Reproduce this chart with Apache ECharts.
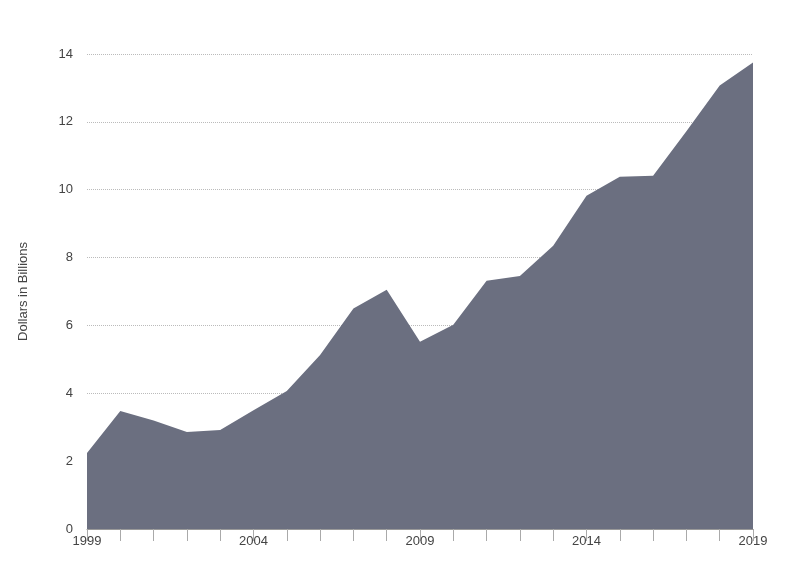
<!DOCTYPE html>
<html><head><meta charset="utf-8">
<script src="https://cdn.jsdelivr.net/npm/echarts@6/dist/echarts.min.js"></script>
<style>html,body{margin:0;padding:0;background:#fff}#c{width:800px;height:587px}</style>
</head><body><div id="c"></div>
<script>
const years = ['1999','2000','2001','2002','2003','2004','2005','2006','2007','2008','2009','2010','2011','2012','2013','2014','2015','2016','2017','2018','2019'];
const values = [2.24,3.48,3.2,2.86,2.92,3.5,4.07,5.13,6.5,7.05,5.52,6.02,7.32,7.46,8.35,9.82,10.38,10.41,11.72,13.07,13.75];
const yTicks = [0,2,4,6,8,10,12,14];
const chart = echarts.init(document.getElementById('c'));
chart.setOption({
  animation:false,
  grid:{left:87,right:47,top:54,bottom:58},
  xAxis:{type:'category',data:years,boundaryGap:false,
    axisLine:{lineStyle:{color:'#999'}},
    axisTick:{show:true,interval:0,length:12,lineStyle:{color:'#aaa'}},
    axisLabel:{interval:4,color:'#444',fontSize:13,fontFamily:'Liberation Sans',margin:6}},
  yAxis:{type:'value',min:0,max:14,interval:2,
    name:'Dollars in Billions',nameLocation:'middle',nameGap:57,
    nameTextStyle:{color:'#444',fontSize:13,fontFamily:'Liberation Sans'},
    axisLine:{show:false},axisTick:{show:false},
    axisLabel:{color:'#444',fontSize:13,fontFamily:'Liberation Sans',margin:14,
      formatter:v=>yTicks.includes(v)?String(v):''},
    splitLine:{lineStyle:{color:'#bbb',type:'dotted'}}},
  series:[{type:'line',data:values,symbol:'none',lineStyle:{width:0},
    areaStyle:{color:'#6b6f80',opacity:1},z:1}]
});
</script></body></html>
